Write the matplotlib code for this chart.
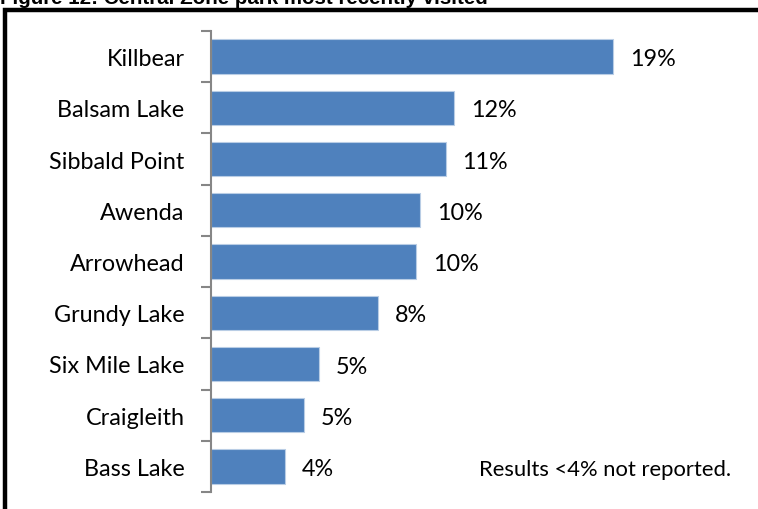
import matplotlib
matplotlib.use("Agg")
import matplotlib.pyplot as plt
from matplotlib.patches import Rectangle

categories = ["Killbear", "Balsam Lake", "Sibbald Point", "Awenda", "Arrowhead",
              "Grundy Lake", "Six Mile Lake", "Craigleith", "Bass Lake"]
values = [19.0, 11.5, 11.1, 9.9, 9.7, 7.9, 5.1, 4.4, 3.5]
value_labels = ["19%", "12%", "11%", "10%", "10%", "8%", "5%", "5%", "4%"]
title = "Figure 12: Central Zone park most recently visited"
note = "Results <4% not reported."

plt.rcParams['font.family'] = ['Lato', 'DejaVu Sans']

W, H = 758, 510
fig = plt.figure(figsize=(W / 100, H / 100), dpi=100)

ax = fig.add_axes([211 / W, 1 - 493 / H, (740 - 211) / W, (493 - 32) / H])
y = list(range(len(categories)))
ax.barh(y, values, height=0.67, color="#4F81BD", edgecolor="#B9CDE5", linewidth=0.8)
ax.set_ylim(len(categories) - 0.5, -0.5)
ax.set_xlim(0, 25)
ax.set_xticks([])
ax.set_yticks([i - 0.5 for i in range(len(categories) + 1)])
ax.set_yticklabels([])
ax.set_yticks(y, minor=True)
ax.set_yticklabels(categories, minor=True, fontsize=16.8, color="black")
ax.tick_params(axis='y', which='minor', length=0, pad=19)
ax.tick_params(axis='y', which='major', length=7, width=1.5, color="#868686", direction='out')
for s in ["top", "right", "bottom"]:
    ax.spines[s].set_visible(False)
ax.spines["left"].set_color("#868686")
ax.spines["left"].set_linewidth(1.5)

for i, (v, lab) in enumerate(zip(values, value_labels)):
    ax.annotate(lab, (v, i), xytext=(12, -1.5), textcoords="offset points",
                va="center", ha="left", fontsize=16.8, color="black")

ax.text((731 - 211) / (740 - 211), 0.05, note, transform=ax.transAxes, ha="right", va="center",
        fontsize=15.8, color="black")

# outer frame
fig.patches.append(Rectangle((5 / W, -0.5), 1.0, 1 - 11 / H + 0.5, transform=fig.transFigure,
                             fill=False, edgecolor="black", linewidth=3.2, clip_on=False))

fig.text(0.0, 1 - 3.5 / H, title, ha="left", va="baseline", fontsize=14.8,
         fontweight="bold", family=["Liberation Sans", "DejaVu Sans"])

fig.savefig("out.png", dpi=100)
